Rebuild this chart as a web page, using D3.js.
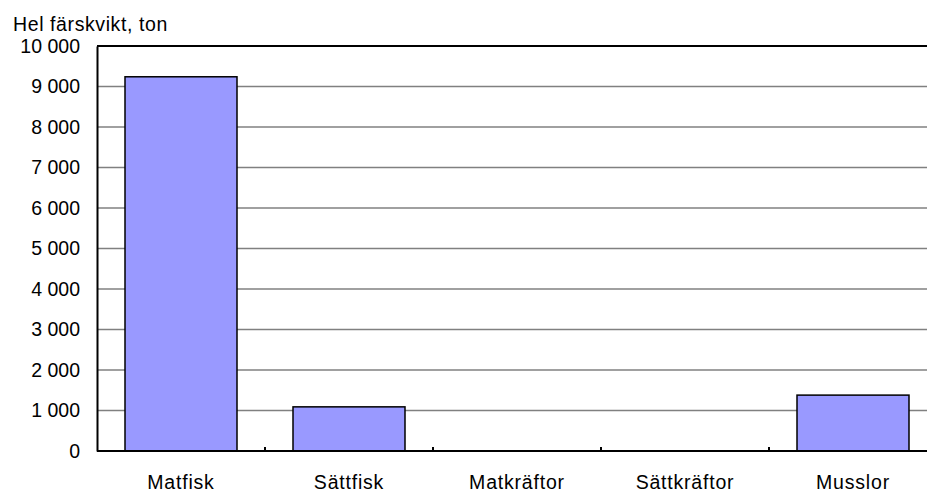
<!DOCTYPE html>
<html>
<head>
<meta charset="utf-8">
<script src="https://cdn.jsdelivr.net/npm/d3@7"></script>
<style>
  html, body { margin: 0; padding: 0; background: #fff; overflow: hidden; }
  text { font-family: "Liberation Sans", Arial, sans-serif; fill: #000; }
</style>
</head>
<body>
<svg id="chart"></svg>
<script>
// data
const categories = ["Matfisk", "Sättfisk", "Matkräftor", "Sättkräftor", "Musslor"];
const values = [9240, 1090, 0, 0, 1380];
const yTicks = [0, 1000, 2000, 3000, 4000, 5000, 6000, 7000, 8000, 9000, 10000];
const yTitle = "Hel färskvikt, ton";

const W = 927, H = 492;
const margin = { top: 46, left: 97, bottom: 41 };
const plotRight = 937; // plot area runs past the right edge of the picture

const svg = d3.select("#chart").attr("width", W).attr("height", H);

const x = d3.scaleBand()
  .domain(categories)
  .range([margin.left, plotRight])
  .paddingInner(1 / 3)
  .paddingOuter(1 / 6);

const y = d3.scaleLinear()
  .domain([0, 10000])
  .range([H - margin.bottom, margin.top]);

const fmt = d => d3.format(",")(d).replace(/,/g, " ");

// gridlines
svg.append("g")
  .selectAll("line")
  .data(yTicks.filter(d => d > 0 && d < 10000))
  .enter().append("line")
  .attr("x1", margin.left).attr("x2", plotRight)
  .attr("y1", d => y(d)).attr("y2", d => y(d))
  .attr("stroke", "#808080")
  .attr("stroke-width", 1.5);

// bars
svg.append("g")
  .selectAll("rect")
  .data(categories)
  .enter().append("rect")
  .attr("x", d => x(d))
  .attr("y", (d, i) => y(values[i]))
  .attr("width", x.bandwidth())
  .attr("height", (d, i) => y(0) - y(values[i]))
  .attr("fill", "#9999FF")
  .attr("stroke", "#000")
  .attr("stroke-width", 1.5);

// plot frame: top
svg.append("line")
  .attr("x1", margin.left).attr("x2", plotRight)
  .attr("y1", y(10000)).attr("y2", y(10000))
  .attr("stroke", "#000").attr("stroke-width", 2);

// y axis
const yAxis = svg.append("g")
  .attr("transform", "translate(" + margin.left + ",0)")
  .call(d3.axisLeft(y).tickValues(yTicks).tickFormat(fmt).tickSize(0).tickPadding(17));
yAxis.select(".domain").attr("stroke", "#000").attr("stroke-width", 2);
yAxis.selectAll("text")
  .style("font-size", "19.5px")
  .style("font-family", "Liberation Sans, Arial, sans-serif");

// x axis: tick marks sit between categories, pointing up
const step = x.step();
const xAxis = svg.append("g")
  .attr("transform", "translate(0," + y(0) + ")");
xAxis.append("line")
  .attr("x1", margin.left).attr("x2", plotRight)
  .attr("stroke", "#000").attr("stroke-width", 2);
xAxis.selectAll(".sep")
  .data(categories.slice(1))
  .enter().append("line")
  .attr("class", "sep")
  .attr("x1", d => x(d) - step * x.paddingInner() / 2)
  .attr("x2", d => x(d) - step * x.paddingInner() / 2)
  .attr("y1", 0).attr("y2", -4)
  .attr("stroke", "#000").attr("stroke-width", 2);
xAxis.selectAll(".lbl")
  .data(categories)
  .enter().append("text")
  .attr("class", "lbl")
  .attr("x", d => x(d) + x.bandwidth() / 2)
  .attr("y", 38)
  .attr("text-anchor", "middle")
  .style("font-size", "19.5px")
  .style("letter-spacing", "0.8px")
  .text(d => d);

// axis title
svg.append("text")
  .attr("x", 13)
  .attr("y", 31)
  .style("font-size", "19.5px")
  .style("letter-spacing", "0.6px")
  .text(yTitle);
</script>
</body>
</html>
